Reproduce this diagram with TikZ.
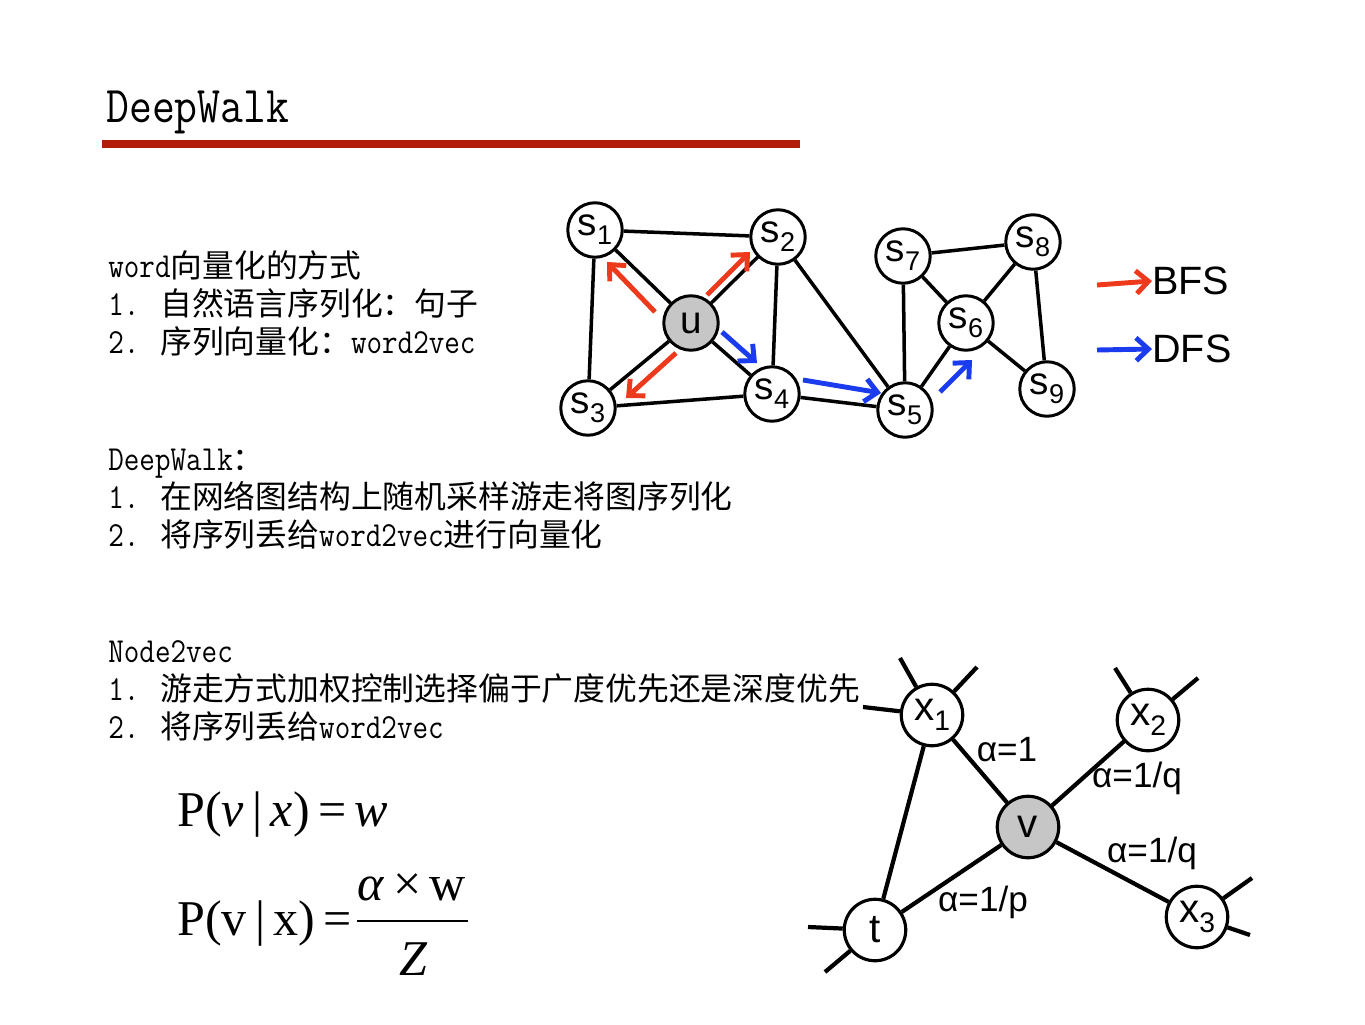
\documentclass[tikz,border=0pt]{standalone}
\usepackage{fontspec}
\usepackage{graphicx}
\usetikzlibrary{arrows.meta}
\newfontfamily\monox{Latin Modern Mono}[FakeStretch=0.86]
\newfontfamily\cjk{Noto Sans CJK SC}[Scale=0.905]
\newfontfamily\arialf{Liberation Sans}
\newfontfamily\tnr{Liberation Serif}
\newcommand\zh[1]{{\cjk #1}}
\newcommand\sbs[1]{\raisebox{-0.45ex}{\scalebox{0.7}{#1}}}
\definecolor{barred}{HTML}{B11C08}
\definecolor{bfsred}{HTML}{EE3A1C}
\definecolor{dfsblue}{HTML}{1B3BEE}
\definecolor{ugray}{HTML}{C6C6C6}
\begin{document}
\begin{tikzpicture}[x=0.02cm,y=-0.02cm,
  body/.style={anchor=base west,inner sep=0pt,font=\fontsize{20pt}{22pt}\selectfont\monox},
  titletxt/.style={anchor=base west,inner sep=0pt,font=\fontsize{29.4pt}{31pt}\selectfont\monox},
  formula/.style={inner sep=0pt,font=\fontsize{28.5pt}{30pt}\selectfont\tnr},
  gnode/.style={circle,draw,line width=1.7pt,minimum size=31pt,inner sep=0pt,fill=white,font=\arialf\fontsize{22pt}{22pt}\selectfont},
  bnode/.style={circle,draw,line width=1.8pt,minimum size=35pt,inner sep=0pt,fill=white,font=\arialf\fontsize{23pt}{23pt}\selectfont},
  edge/.style={line width=2pt},
  bedge/.style={line width=2.4pt},
  alab/.style={inner sep=0pt,font=\arialf\fontsize{20pt}{20pt}\selectfont},
  legtxt/.style={anchor=west,inner sep=0pt,font=\arialf\fontsize{22.5pt}{24pt}\selectfont},
  bfsarrow/.style={draw=bfsred,line width=2.8pt,-{Straight Barb[length=7pt,width=13pt]}},
  dfsarrow/.style={draw=dfsblue,line width=2.8pt,-{Straight Barb[length=7pt,width=13pt]}}]
\useasboundingbox[fill=white] (0,0) rectangle (1365,1024);

% title and bar
\node[titletxt] (title) at (106,122) {DeepWalk};
\fill[barred] (102,140) rectangle (800,148);

% text block 1
\node[body] (a1) at (108,277) {word\zh{向量化的方式}};
\node[body] (a2) at (108,315) {1. \zh{自然语言序列化：句子}};
\node[body] (a3) at (108,353) {2. \zh{序列向量化：}word2vec};
% text block 2
\node[body] (b1) at (108,470) {DeepWalk\zh{：}};
\node[body] (b2) at (108,508) {1. \zh{在网络图结构上随机采样游走将图序列化}};
\node[body] (b3) at (108,546) {2. \zh{将序列丢给}word2vec\zh{进行向量化}};
% text block 3
\node[body] (c1) at (108,662) {Node2vec};
\node[body] (c2) at (108,700) {1. \zh{游走方式加权控制选择偏于广度优先还是深度优先}};
\node[body] (c3) at (108,738) {2. \zh{将序列丢给}word2vec};

% formulas
\node[formula,anchor=base west] (f1) at (177,826) {P(\textit{v}\,|\,\textit{x})\,=\,\textit{w}};
\node[formula,anchor=base west] (f2) at (177,935) {P(v\,|\,x)\,=};
\node[formula,anchor=base] (num) at (412,900) {\textit{α}\,×\,w};
\node[formula,anchor=base] (den) at (414,975) {\textit{Z}};
\coordinate (fl) at (357,921);
\coordinate (fr) at (468,921);
\draw[line width=1.2pt] (fl) -- (fr);

% top graph
\node[gnode] (s1) at (595,230) {s\sbs{1}};
\node[gnode] (s2) at (778,237) {s\sbs{2}};
\node[gnode,fill=ugray] (u) at (691,323) {u};
\node[gnode] (s3) at (588,408) {s\sbs{3}};
\node[gnode] (s4) at (772,394) {s\sbs{4}};
\node[gnode] (s5) at (905,410) {s\sbs{5}};
\node[gnode] (s6) at (966,323) {s\sbs{6}};
\node[gnode] (s7) at (903,256) {s\sbs{7}};
\node[gnode] (s8) at (1033,242) {s\sbs{8}};
\node[gnode] (s9) at (1047,389) {s\sbs{9}};
\foreach \a/\b in {s1/s2,s1/s3,s1/u,s2/u,s2/s4,s2/s5,u/s3,u/s4,s3/s4,s4/s5,s5/s7,s5/s6,s7/s6,s7/s8,s8/s6,s8/s9,s6/s9}
  \draw[edge] (\a) -- (\b);

% BFS / DFS walk arrows
\coordinate (r1a) at (655,312); \coordinate (r1b) at (607,262);
\coordinate (r2a) at (707,295); \coordinate (r2b) at (750,252);
\coordinate (r3a) at (676,353); \coordinate (r3b) at (626,398);
\coordinate (d1a) at (722,332); \coordinate (d1b) at (757,363);
\coordinate (d2a) at (803,380); \coordinate (d2b) at (881,393);
\coordinate (d3a) at (940,392); \coordinate (d3b) at (972,360);
\draw[bfsarrow] (r1a) -- (r1b);
\draw[bfsarrow] (r2a) -- (r2b);
\draw[bfsarrow] (r3a) -- (r3b);
\draw[dfsarrow] (d1a) -- (d1b);
\draw[dfsarrow] (d2a) -- (d2b);
\draw[dfsarrow] (d3a) -- (d3b);

% legend
\node[legtxt] (bfs) at (1152,281) {BFS};
\node[legtxt] (dfs) at (1152,349) {DFS};
\coordinate (lb) at (1097,285);
\coordinate (ld) at (1097,350);
\draw[bfsarrow] (lb) -- (bfs.west);
\draw[dfsarrow] (ld) -- (dfs.west);

% bottom graph
\node[bnode] (x1) at (932,715) {x\sbs{1}};
\node[bnode] (x2) at (1148,720) {x\sbs{2}};
\node[bnode,fill=ugray] (v) at (1028,827) {v};
\node[bnode] (x3) at (1197,917) {x\sbs{3}};
\node[bnode] (t) at (875,930) {t};
\draw[bedge] (x1) -- (v);
\draw[bedge] (x2) -- (v);
\draw[bedge] (x3) -- (v);
\draw[bedge] (t) -- (v);
\draw[bedge] (t) -- (x1);
% stubs
\coordinate (e1) at (863,707); \coordinate (e2) at (900,658); \coordinate (e3) at (977,667);
\coordinate (e4) at (1115,668); \coordinate (e5) at (1198,678);
\coordinate (e6) at (1252,878); \coordinate (e7) at (1250,935);
\coordinate (e8) at (808,927); \coordinate (e9) at (825,972);
\draw[bedge] (x1) -- (e1);
\draw[bedge] (x1) -- (e2);
\draw[bedge] (x1) -- (e3);
\draw[bedge] (x2) -- (e4);
\draw[bedge] (x2) -- (e5);
\draw[bedge] (x3) -- (e6);
\draw[bedge] (x3) -- (e7);
\draw[bedge] (t) -- (e8);
\draw[bedge] (t) -- (e9);
% alpha labels
\node[alab] (l1) at (1007,750) {α=1};
\node[alab] (l2) at (1137,778) {α=1/q};
\node[alab] (l3) at (1152,853) {α=1/q};
\node[alab] (l4) at (983,902) {α=1/p};
\end{tikzpicture}
\end{document}
